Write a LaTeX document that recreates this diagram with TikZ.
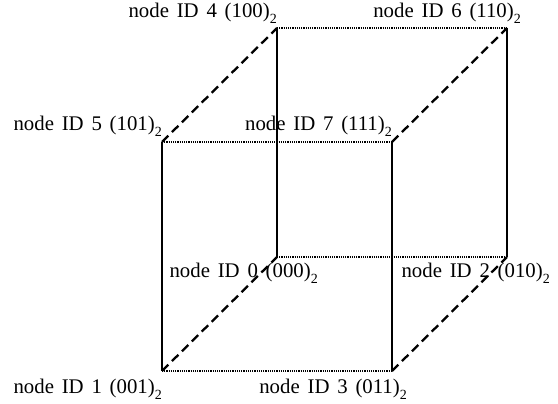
\documentclass[tikz,border=0pt]{standalone}
\usepackage{fontspec}
\setmainfont{Liberation Serif}[WordSpace=1.5]
\newcommand\subtwo{\raisebox{-6pt}{\fontsize{14}{14}\selectfont 2}}
\begin{document}
\begin{tikzpicture}[x=1pt,y=-1pt,
  lbl/.style={inner sep=0pt, anchor=base east, font=\fontsize{20.8}{24}\selectfont},
  solidedge/.style={line width=2.3pt},
  dashedge/.style={line width=2.3pt, dash pattern=on 9pt off 5pt},
  dotedge/.style={line width=1.5pt, dash pattern=on 1.2pt off 1pt}]
\useasboundingbox (0,0) rectangle (558,404);
% corners
\coordinate (n4) at (277,28);
\coordinate (n6) at (507,28);
\coordinate (n5) at (162,142);
\coordinate (n7) at (392,142);
\coordinate (n0) at (277,257);
\coordinate (n2) at (507,257);
\coordinate (n1) at (162,371);
\coordinate (n3) at (392,371);
% dotted edges
\draw[dotedge] (n4) -- (n6);
\draw[dotedge] (n5) -- (n7);
\draw[dotedge] (n0) -- (n2);
\draw[dotedge] (n1) -- (n3);
% solid edges
\draw[solidedge] (n4) -- (n0);
\draw[solidedge] (n6) -- (n2);
\draw[solidedge] (n5) -- (n1);
\draw[solidedge] (n7) -- (n3);
% dashed edges
\draw[dashedge] (n5) -- (n4);
\draw[dashedge] (n7) -- (n6);
\draw[dashedge] (n1) -- (n0);
\draw[dashedge] (n3) -- (n2);
% labels
\node[lbl] (l4) at ([shift={(0,-10)}]n4) {node ID 4 (100)\subtwo};
\node[lbl] (l6) at ([shift={(14,-10)}]n6) {node ID 6 (110)\subtwo};
\node[lbl] (l5) at ([shift={(0,-11)}]n5) {node ID 5 (101)\subtwo};
\node[lbl] (l7) at ([shift={(0,-11)}]n7) {node ID 7 (111)\subtwo};
\node[lbl] (l0) at ([shift={(41,20)}]n0) {node ID 0 (000)\subtwo};
\node[lbl] (l2) at ([shift={(43,20)}]n2) {node ID 2 (010)\subtwo};
\node[lbl] (l1) at ([shift={(0,22)}]n1) {node ID 1 (001)\subtwo};
\node[lbl] (l3) at ([shift={(15,22)}]n3) {node ID 3 (011)\subtwo};
\end{tikzpicture}
\end{document}
